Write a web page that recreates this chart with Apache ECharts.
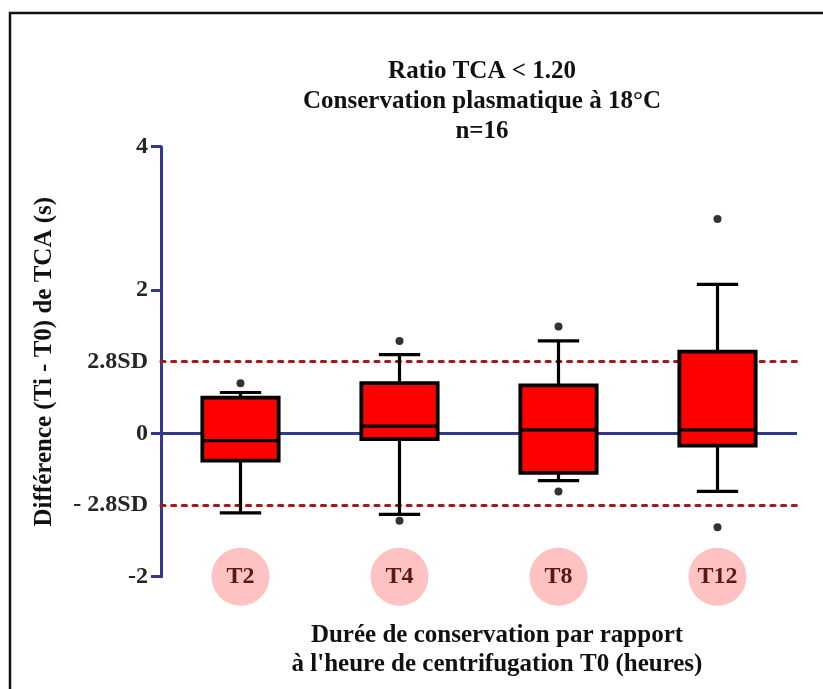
<!DOCTYPE html>
<html>
<head>
<meta charset="utf-8">
<script src="https://cdn.jsdelivr.net/npm/echarts@6/dist/echarts.min.js"></script>
<style>
  html, body { margin: 0; padding: 0; background: #ffffff; }
  #chart { width: 823px; height: 689px; }
</style>
</head>
<body>
<div id="chart"></div>
<script>
// Storage times after centrifugation (T0)
const categories = ['T2', 'T4', 'T8', 'T12'];

// Box plot statistics of (Ti - T0) TCA difference, seconds
const whiskerLow  = [-1.11, -1.13, -0.66, -0.81];
const q1          = [-0.38, -0.08, -0.55, -0.17];
const median      = [-0.10,  0.10,  0.05,  0.05];
const q3          = [ 0.50,  0.70,  0.67,  1.14];
const whiskerHigh = [ 0.57,  1.10,  1.29,  2.08];

// Individual points beyond the whiskers
const outlierCategory = ['T2', 'T4', 'T4', 'T8', 'T8', 'T12', 'T12'];
const outlierValue    = [0.70, 1.29, -1.22, 1.49, -0.81, 2.99, -1.31];

// Acceptance limits (±2.8 SD)
const limitValues = [1.0, -1.0];
const limitLabels = ['2.8SD', '- 2.8SD'];

// Y axis range and tick step
const yMin = -2, yMax = 4, yStep = 2;

const FONT = '"Liberation Serif", "Times New Roman", serif';
const NAVY = '#34388a';
const DOT_RED = '#a81818';

const boxData = categories.map((c, i) =>
  [i, whiskerLow[i], q1[i], median[i], q3[i], whiskerHigh[i]]);
const outlierData = outlierCategory.map((c, i) => [c, outlierValue[i]]);

const chart = echarts.init(document.getElementById('chart'));

chart.setOption({
  animation: false,
  backgroundColor: '#ffffff',
  title: {
    text: 'Ratio TCA < 1.20\nConservation plasmatique à 18°C\nn=16',
    left: 482,
    top: 57,
    textAlign: 'center',
    padding: 0,
    textStyle: {
      fontFamily: FONT, fontWeight: 'bold', fontSize: 25,
      lineHeight: 30, color: '#111111'
    }
  },
  graphic: [{
    type: 'rect',
    z: -10,
    shape: { x: 10, y: 13, width: 840, height: 700 },
    style: { fill: 'none', stroke: '#111111', lineWidth: 2.5 }
  }],
  grid: { left: 161, right: 26, top: 146.7, bottom: 112.3 },
  xAxis: {
    type: 'category',
    data: categories,
    boundaryGap: true,
    axisLine: { show: false },
    axisTick: { show: false },
    splitLine: { show: false },
    axisLabel: {
      margin: -29,
      formatter: v => '{c|' + v + '}',
      rich: {
        c: {
          width: 58, height: 58, lineHeight: 58, borderRadius: 29,
          backgroundColor: '#ffc2c2', align: 'center',
          fontFamily: FONT, fontWeight: 'bold', fontSize: 24, color: '#521c1c'
        }
      }
    },
    name: 'Durée de conservation par rapport\nà l\'heure de centrifugation T0 (heures)',
    nameLocation: 'middle',
    nameGap: 44,
    nameTextStyle: {
      fontFamily: FONT, fontWeight: 'bold', fontSize: 25, lineHeight: 29,
      color: '#111111', padding: [0, 0, 0, 36]
    }
  },
  yAxis: {
    type: 'value',
    min: yMin, max: yMax, interval: yStep,
    axisLine: { show: true, onZero: false, lineStyle: { color: NAVY, width: 3 } },
    axisTick: { show: true, length: 10, lineStyle: { color: NAVY, width: 3 } },
    splitLine: { show: false },
    axisLabel: {
      margin: 13,
      fontFamily: FONT, fontWeight: 'bold', fontSize: 24, color: '#262626'
    },
    name: 'Différence (Ti - T0) de TCA (s)',
    nameLocation: 'middle',
    nameRotate: 90,
    nameGap: 104,
    nameTextStyle: {
      fontFamily: FONT, fontWeight: 'bold', fontSize: 25, color: '#111111'
    }
  },
  series: [
    {
      // reference lines: zero and ±2.8 SD
      type: 'line',
      data: [],
      z: 1,
      silent: true,
      markLine: {
        silent: true,
        symbol: ['none', 'none'],
        data: [
          { yAxis: 0, lineStyle: { color: NAVY, width: 3, type: 'solid' }, label: { show: false } },
          ...limitValues.map((v, i) => ({
            yAxis: v,
            lineStyle: { color: DOT_RED, width: 3.2, type: [4, 6.7], cap: 'round' },
            label: {
              show: true, position: 'start', distance: 13, formatter: limitLabels[i],
              fontFamily: FONT, fontWeight: 'bold', fontSize: 24, color: '#262626'
            }
          }))
        ]
      }
    },
    {
      type: 'custom',
      z: 5,
      data: boxData,
      encode: { x: 0, y: [1, 2, 3, 4, 5] },
      renderItem: (params, api) => {
        const x = api.value(0);
        const pLow = api.coord([x, api.value(1)]);
        const pQ1 = api.coord([x, api.value(2)]);
        const pMed = api.coord([x, api.value(3)]);
        const pQ3 = api.coord([x, api.value(4)]);
        const pHigh = api.coord([x, api.value(5)]);
        const band = api.size([1, 0])[0];
        const half = band * 0.24;
        const cap = band * 0.13;
        const cx = pMed[0];
        const stroke = { stroke: '#000000', lineWidth: 3.2 };
        return {
          type: 'group',
          children: [
            { type: 'line', shape: { x1: cx, y1: pQ3[1], x2: cx, y2: pHigh[1] }, style: stroke },
            { type: 'line', shape: { x1: cx, y1: pQ1[1], x2: cx, y2: pLow[1] }, style: stroke },
            { type: 'line', shape: { x1: cx - cap, y1: pHigh[1], x2: cx + cap, y2: pHigh[1] }, style: stroke },
            { type: 'line', shape: { x1: cx - cap, y1: pLow[1], x2: cx + cap, y2: pLow[1] }, style: stroke },
            {
              type: 'rect',
              shape: { x: cx - half, y: pQ3[1], width: half * 2, height: pQ1[1] - pQ3[1] },
              style: { fill: '#ff0000', stroke: '#000000', lineWidth: 3.8 }
            },
            { type: 'line', shape: { x1: cx - half, y1: pMed[1], x2: cx + half, y2: pMed[1] }, style: stroke }
          ]
        };
      }
    },
    {
      type: 'scatter',
      z: 6,
      data: outlierData,
      symbol: 'circle',
      symbolSize: 8,
      itemStyle: { color: '#000000' },
      silent: true
    }
  ]
});
</script>
</body>
</html>
